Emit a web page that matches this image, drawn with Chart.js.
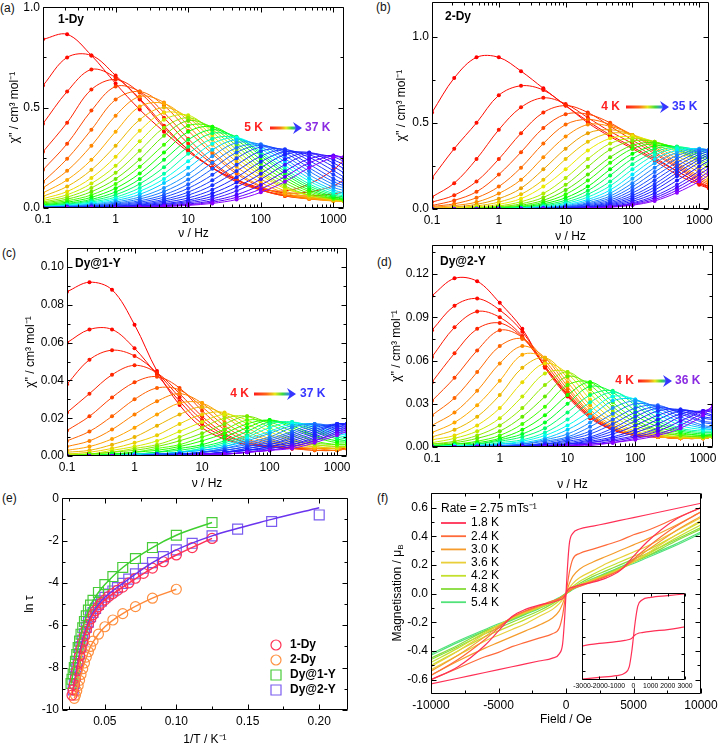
<!DOCTYPE html>
<html><head><meta charset="utf-8">
<script src="https://cdn.jsdelivr.net/npm/chart.js@4.4.1/dist/chart.umd.min.js"></script>
<style>
html,body{margin:0;padding:0;background:#fff}
body{width:720px;height:748px;overflow:hidden;position:relative;font-family:"Liberation Sans",Arial,sans-serif}
.lbl{position:absolute;font-size:12px;line-height:14px;color:#111}
canvas{position:absolute}
</style></head><body>
<div class="lbl" style="left:0;top:1px">(a)</div>
<div class="lbl" style="left:376px;top:0">(b)</div>
<div class="lbl" style="left:2px;top:246px">(c)</div>
<div class="lbl" style="left:377px;top:255px">(d)</div>
<div class="lbl" style="left:2px;top:491px">(e)</div>
<div class="lbl" style="left:377px;top:491px">(f)</div>
<script>
// ---------- data: ac susceptibility (chi'' vs frequency) ----------
const FREQ = [0.1,0.215,0.464,1,2.15,4.64,10,21.5,46.4,100,215,464,1000,1400];

const A_TEMPS = [5,6,7,8,9,10,11,12,13,14,15,16,17,18,19,20,21,22,23,24,25,26,27,28,29,30,31,32,33,34,35,36,37];
const A_CHI = [
 [0.84,0.865,0.76,0.62,0.49,0.38,0.28,0.2,0.14,0.095,0.085,0.12,0.19,0.24],
 [0.61,0.75,0.76,0.66,0.54,0.40,0.29,0.2,0.14,0.10,0.075,0.08,0.11,0.14],
 [0.42,0.58,0.69,0.65,0.545,0.41,0.29,0.2,0.13,0.09,0.065,0.06,0.07,0.08],
 [0.28,0.425,0.59,0.64,0.575,0.45,0.32,0.22,0.14,0.09,0.06,0.05,0.05,0.06],
 [0.19,0.32,0.485,0.605,0.58,0.475,0.345,0.23,0.145,0.09,0.06,0.045,0.04,0.045],
 [0.13,0.245,0.39,0.54,0.58,0.51,0.385,0.27,0.17,0.105,0.067,0.048,0.04,0.04],
 [0.10,0.185,0.31,0.46,0.555,0.525,0.41,0.285,0.18,0.11,0.065,0.045,0.035,0.035],
 [0.075,0.14,0.24,0.38,0.505,0.52,0.435,0.315,0.205,0.127,0.075,0.05,0.035,0.032],
 [0.058,0.107,0.19,0.31,0.44,0.5,0.45,0.34,0.23,0.145,0.085,0.055,0.038,0.033],
 [0.046,0.082,0.15,0.255,0.385,0.475,0.455,0.36,0.25,0.163,0.097,0.062,0.042,0.036],
 [0.037,0.066,0.122,0.21,0.332,0.44,0.462,0.378,0.27,0.174,0.103,0.063,0.043,0.037],
 [0.03,0.054,0.1,0.175,0.285,0.4,0.45,0.39,0.29,0.185,0.11,0.065,0.045,0.038],
 [0.025,0.044,0.081,0.145,0.242,0.36,0.435,0.4,0.31,0.202,0.125,0.073,0.046,0.039],
 [0.02,0.036,0.065,0.12,0.205,0.315,0.41,0.405,0.325,0.22,0.14,0.082,0.048,0.04],
 [0.016,0.029,0.053,0.098,0.172,0.276,0.38,0.405,0.34,0.24,0.155,0.09,0.053,0.044],
 [0.013,0.023,0.043,0.08,0.144,0.24,0.34,0.39,0.35,0.26,0.17,0.10,0.058,0.048],
 [0.011,0.019,0.036,0.066,0.12,0.203,0.305,0.372,0.355,0.27,0.182,0.11,0.065,0.054],
 [0.009,0.016,0.03,0.054,0.10,0.17,0.27,0.345,0.35,0.28,0.195,0.12,0.072,0.06],
 [0.007,0.013,0.025,0.045,0.083,0.145,0.233,0.32,0.35,0.295,0.212,0.134,0.081,0.067],
 [0.006,0.011,0.02,0.037,0.068,0.124,0.2,0.29,0.34,0.305,0.23,0.148,0.09,0.075],
 [0.005,0.009,0.016,0.03,0.055,0.1,0.168,0.258,0.325,0.315,0.245,0.165,0.103,0.087],
 [0.004,0.007,0.013,0.024,0.045,0.082,0.142,0.225,0.3,0.317,0.26,0.183,0.117,0.1],
 [0.003,0.006,0.011,0.02,0.036,0.066,0.118,0.195,0.277,0.312,0.275,0.2,0.131,0.111],
 [0.003,0.005,0.009,0.016,0.029,0.054,0.098,0.165,0.248,0.303,0.285,0.218,0.146,0.122],
 [0.002,0.004,0.007,0.013,0.023,0.043,0.079,0.138,0.215,0.283,0.292,0.236,0.166,0.138],
 [0.002,0.004,0.006,0.01,0.018,0.035,0.064,0.113,0.184,0.258,0.29,0.252,0.186,0.154],
 [0.001,0.003,0.005,0.008,0.015,0.028,0.05,0.091,0.153,0.23,0.28,0.266,0.206,0.175],
 [0.001,0.002,0.004,0.007,0.012,0.022,0.039,0.073,0.127,0.2,0.266,0.276,0.224,0.196],
 [0.001,0.001,0.003,0.005,0.01,0.018,0.032,0.058,0.104,0.17,0.243,0.275,0.24,0.215],
 [0.001,0.001,0.003,0.004,0.008,0.014,0.026,0.046,0.085,0.143,0.216,0.267,0.254,0.232],
 [0.001,0.001,0.002,0.003,0.006,0.011,0.02,0.036,0.066,0.115,0.183,0.245,0.262,0.245],
 [0.001,0.001,0.002,0.003,0.005,0.009,0.016,0.029,0.053,0.095,0.156,0.225,0.26,0.252],
 [0.001,0.001,0.002,0.003,0.004,0.007,0.013,0.023,0.042,0.078,0.131,0.2,0.252,0.255]
];

const B_TEMPS = [4,5,6,7,8,9,10,11,12,13,14,15,16,17,18,19,20,21,22,23,24,25,26,27,28,29,30,31,32,33,34,35];
const B_CHI = [
 [0.56,0.76,0.88,0.88,0.80,0.70,0.60,0.51,0.43,0.36,0.29,0.22,0.15,0.13],
 [0.18,0.35,0.50,0.66,0.715,0.69,0.60,0.50,0.42,0.35,0.28,0.20,0.14,0.12],
 [0.07,0.15,0.29,0.46,0.59,0.645,0.61,0.53,0.45,0.38,0.30,0.22,0.15,0.12],
 [0.04,0.08,0.16,0.29,0.44,0.56,0.60,0.56,0.48,0.40,0.32,0.24,0.16,0.13],
 [0.02,0.05,0.10,0.20,0.33,0.47,0.55,0.55,0.50,0.42,0.33,0.25,0.17,0.14],
 [0.015,0.03,0.065,0.13,0.24,0.38,0.49,0.52,0.49,0.43,0.35,0.26,0.18,0.15],
 [0.01,0.02,0.04,0.09,0.17,0.30,0.42,0.49,0.48,0.43,0.36,0.27,0.19,0.16],
 [0.005,0.012,0.027,0.06,0.12,0.23,0.35,0.44,0.46,0.43,0.37,0.29,0.21,0.17],
 [0.003,0.008,0.018,0.04,0.085,0.17,0.29,0.39,0.44,0.43,0.38,0.31,0.23,0.19],
 [0.002,0.005,0.012,0.027,0.06,0.13,0.23,0.34,0.41,0.42,0.39,0.33,0.25,0.21],
 [0.001,0.003,0.008,0.018,0.042,0.09,0.18,0.29,0.38,0.41,0.39,0.34,0.27,0.23],
 [0.001,0.002,0.006,0.013,0.03,0.067,0.14,0.245,0.345,0.395,0.39,0.345,0.28,0.245],
 [0.001,0.002,0.004,0.01,0.022,0.05,0.11,0.20,0.30,0.37,0.385,0.35,0.29,0.26],
 [0,0.001,0.003,0.007,0.016,0.039,0.085,0.165,0.268,0.35,0.378,0.356,0.305,0.275],
 [0,0.001,0.002,0.005,0.012,0.03,0.065,0.13,0.23,0.32,0.365,0.36,0.32,0.29],
 [0,0.001,0.001,0.004,0.009,0.023,0.051,0.106,0.195,0.292,0.35,0.362,0.33,0.305],
 [0,0,0.001,0.003,0.007,0.018,0.04,0.085,0.16,0.26,0.33,0.36,0.34,0.32],
 [0,0,0.001,0.002,0.005,0.013,0.032,0.069,0.134,0.23,0.313,0.352,0.345,0.33],
 [0,0,0.001,0.002,0.004,0.01,0.025,0.055,0.11,0.20,0.29,0.34,0.35,0.34],
 [0,0,0,0.001,0.003,0.008,0.02,0.045,0.091,0.175,0.266,0.327,0.35,0.343],
 [0,0,0,0.001,0.003,0.007,0.016,0.036,0.075,0.15,0.24,0.31,0.345,0.345],
 [0,0,0,0.001,0.002,0.006,0.013,0.03,0.063,0.129,0.215,0.292,0.34,0.344],
 [0,0,0,0.001,0.002,0.005,0.011,0.025,0.052,0.11,0.19,0.27,0.33,0.34],
 [0,0,0,0,0.001,0.004,0.009,0.02,0.043,0.093,0.167,0.25,0.317,0.334],
 [0,0,0,0,0.001,0.003,0.007,0.016,0.036,0.078,0.145,0.23,0.30,0.325],
 [0,0,0,0,0.001,0.002,0.006,0.013,0.03,0.066,0.127,0.21,0.287,0.313],
 [0,0,0,0,0.001,0.002,0.005,0.011,0.025,0.055,0.11,0.19,0.27,0.30],
 [0,0,0,0,0,0.001,0.004,0.009,0.02,0.045,0.092,0.165,0.246,0.279],
 [0,0,0,0,0,0.001,0.003,0.007,0.016,0.036,0.076,0.14,0.22,0.255],
 [0,0,0,0,0,0.001,0.002,0.006,0.014,0.031,0.065,0.124,0.2,0.237],
 [0,0,0,0,0,0.001,0.002,0.005,0.012,0.026,0.055,0.109,0.18,0.218],
 [0,0,0,0,0,0.001,0.002,0.004,0.01,0.022,0.047,0.095,0.16,0.20]
];

const C_TEMPS = [4,5,6,7,8,9,10,11,12,13,14,15,16,17,18,19,20,21,22,23,24,25,26,27,28,29,30,31,32,33,34,35,36,37];
const C_CHI = [
 [0.087,0.092,0.088,0.0695,0.045,0.027,0.015,0.009,0.006,0.005,0.004,0.004,0.004,0.005],
 [0.06,0.067,0.067,0.057,0.043,0.029,0.017,0.01,0.006,0.005,0.004,0.004,0.004,0.004],
 [0.038,0.051,0.056,0.053,0.044,0.031,0.019,0.011,0.007,0.005,0.004,0.004,0.004,0.004],
 [0.023,0.033,0.043,0.048,0.044,0.033,0.021,0.012,0.007,0.005,0.004,0.004,0.004,0.004],
 [0.0135,0.021,0.031,0.039,0.042,0.036,0.024,0.014,0.008,0.005,0.004,0.003,0.003,0.004],
 [0.008,0.013,0.021,0.03,0.036,0.035,0.026,0.016,0.009,0.006,0.004,0.003,0.003,0.004],
 [0.005,0.008,0.014,0.022,0.029,0.033,0.028,0.018,0.011,0.007,0.005,0.004,0.003,0.004],
 [0.003,0.005,0.009,0.015,0.022,0.028,0.028,0.021,0.013,0.008,0.005,0.004,0.004,0.005],
 [0.002,0.003,0.006,0.01,0.016,0.022,0.026,0.022,0.015,0.009,0.006,0.005,0.004,0.005],
 [0.001,0.002,0.004,0.007,0.011,0.017,0.022,0.023,0.017,0.011,0.007,0.005,0.004,0.005],
 [0.001,0.001,0.003,0.005,0.008,0.013,0.018,0.022,0.019,0.013,0.008,0.006,0.005,0.005],
 [0.001,0.001,0.002,0.004,0.006,0.01,0.015,0.02,0.021,0.015,0.009,0.006,0.005,0.005],
 [0,0.001,0.002,0.003,0.005,0.008,0.012,0.017,0.021,0.017,0.011,0.007,0.006,0.006],
 [0,0.001,0.001,0.002,0.004,0.006,0.01,0.014,0.019,0.018,0.013,0.008,0.006,0.006],
 [0,0,0.001,0.002,0.003,0.005,0.008,0.012,0.017,0.019,0.015,0.01,0.007,0.007],
 [0,0,0.001,0.001,0.002,0.004,0.006,0.01,0.015,0.019,0.016,0.011,0.008,0.008],
 [0,0,0.001,0.001,0.002,0.003,0.005,0.008,0.013,0.018,0.017,0.013,0.009,0.008],
 [0,0,0,0.001,0.001,0.002,0.004,0.007,0.011,0.017,0.018,0.014,0.01,0.009],
 [0,0,0,0.001,0.001,0.002,0.004,0.006,0.01,0.015,0.018,0.015,0.011,0.01],
 [0,0,0,0.001,0.001,0.002,0.003,0.005,0.009,0.013,0.017,0.016,0.012,0.011],
 [0,0,0,0.001,0.001,0.002,0.003,0.005,0.008,0.012,0.016,0.017,0.013,0.012],
 [0,0,0,0,0.001,0.001,0.002,0.004,0.007,0.01,0.015,0.017,0.014,0.013],
 [0,0,0,0,0.001,0.001,0.002,0.004,0.006,0.009,0.013,0.017,0.015,0.014],
 [0,0,0,0,0.001,0.001,0.002,0.003,0.005,0.008,0.012,0.016,0.016,0.015],
 [0,0,0,0,0.001,0.001,0.002,0.003,0.005,0.007,0.011,0.015,0.017,0.016],
 [0,0,0,0,0,0.001,0.001,0.002,0.004,0.006,0.01,0.014,0.017,0.017],
 [0,0,0,0,0,0.001,0.001,0.002,0.004,0.006,0.009,0.013,0.017,0.017],
 [0,0,0,0,0,0.001,0.001,0.002,0.003,0.005,0.008,0.012,0.017,0.017],
 [0,0,0,0,0,0.001,0.001,0.002,0.003,0.005,0.007,0.011,0.016,0.017],
 [0,0,0,0,0,0,0.001,0.002,0.003,0.004,0.006,0.01,0.015,0.017],
 [0,0,0,0,0,0,0.001,0.001,0.002,0.004,0.006,0.009,0.014,0.016],
 [0,0,0,0,0,0,0.001,0.001,0.002,0.003,0.005,0.008,0.013,0.015],
 [0,0,0,0,0,0,0.001,0.001,0.002,0.003,0.005,0.008,0.012,0.014],
 [0,0,0,0,0,0,0.001,0.001,0.002,0.003,0.004,0.007,0.011,0.013]
];

const D_TEMPS = [4,5,6,7,8,9,10,11,12,13,14,15,16,17,18,19,20,21,22,23,24,25,26,27,28,29,30,31,32,33,34,35,36];
const D_CHI = [
 [0.105,0.117,0.115,0.1,0.082,0.055,0.035,0.02,0.012,0.008,0.007,0.006,0.006,0.007],
 [0.081,0.098,0.103,0.095,0.08,0.056,0.036,0.021,0.012,0.008,0.007,0.006,0.006,0.007],
 [0.0625,0.083,0.094,0.09,0.077,0.056,0.036,0.021,0.012,0.008,0.007,0.006,0.006,0.007],
 [0.045,0.065,0.082,0.086,0.076,0.056,0.037,0.022,0.013,0.008,0.007,0.006,0.006,0.007],
 [0.032,0.048,0.067,0.081,0.076,0.058,0.038,0.022,0.013,0.008,0.007,0.006,0.006,0.007],
 [0.022,0.034,0.052,0.07,0.075,0.06,0.04,0.023,0.013,0.008,0.007,0.006,0.006,0.007],
 [0.015,0.024,0.039,0.058,0.07,0.062,0.042,0.024,0.014,0.009,0.007,0.006,0.006,0.007],
 [0.01,0.017,0.029,0.046,0.064,0.062,0.045,0.026,0.015,0.009,0.007,0.006,0.006,0.007],
 [0.007,0.012,0.021,0.036,0.055,0.062,0.048,0.029,0.017,0.01,0.008,0.007,0.006,0.007],
 [0.005,0.008,0.015,0.027,0.045,0.058,0.051,0.033,0.019,0.011,0.008,0.007,0.006,0.007],
 [0.003,0.006,0.011,0.02,0.035,0.051,0.052,0.037,0.022,0.013,0.009,0.007,0.007,0.007],
 [0.002,0.004,0.008,0.015,0.027,0.043,0.052,0.04,0.025,0.015,0.01,0.008,0.007,0.007],
 [0.002,0.003,0.006,0.011,0.021,0.035,0.049,0.043,0.028,0.017,0.011,0.008,0.007,0.008],
 [0.001,0.002,0.004,0.008,0.016,0.028,0.043,0.045,0.031,0.019,0.012,0.009,0.008,0.008],
 [0.001,0.002,0.003,0.006,0.012,0.022,0.036,0.045,0.035,0.022,0.014,0.01,0.008,0.009],
 [0.001,0.001,0.002,0.005,0.009,0.017,0.03,0.042,0.038,0.025,0.016,0.011,0.009,0.009],
 [0,0.001,0.002,0.004,0.007,0.013,0.024,0.036,0.039,0.029,0.018,0.012,0.01,0.01],
 [0,0.001,0.001,0.003,0.005,0.01,0.019,0.031,0.038,0.031,0.02,0.013,0.011,0.011],
 [0,0.001,0.001,0.002,0.004,0.008,0.015,0.025,0.035,0.033,0.023,0.015,0.012,0.012],
 [0,0,0.001,0.002,0.003,0.006,0.012,0.021,0.032,0.033,0.025,0.017,0.013,0.012],
 [0,0,0.001,0.001,0.002,0.005,0.009,0.017,0.027,0.032,0.027,0.019,0.014,0.013],
 [0,0,0,0.001,0.002,0.004,0.007,0.014,0.023,0.03,0.028,0.021,0.015,0.014],
 [0,0,0,0.001,0.001,0.003,0.006,0.011,0.019,0.027,0.029,0.023,0.017,0.016],
 [0,0,0,0,0.001,0.002,0.005,0.009,0.016,0.024,0.028,0.024,0.018,0.017],
 [0,0,0,0,0.001,0.002,0.004,0.007,0.013,0.021,0.027,0.025,0.02,0.019],
 [0,0,0,0,0.001,0.002,0.003,0.006,0.011,0.018,0.025,0.026,0.021,0.02],
 [0,0,0,0,0.001,0.001,0.002,0.005,0.009,0.015,0.022,0.026,0.023,0.021],
 [0,0,0,0,0,0.001,0.002,0.004,0.007,0.012,0.019,0.025,0.024,0.022],
 [0,0,0,0,0,0.001,0.002,0.003,0.006,0.01,0.016,0.023,0.025,0.024],
 [0,0,0,0,0,0.001,0.001,0.003,0.005,0.008,0.013,0.021,0.025,0.025],
 [0,0,0,0,0,0.001,0.001,0.002,0.004,0.007,0.011,0.018,0.025,0.026],
 [0,0,0,0,0,0,0.001,0.002,0.003,0.006,0.009,0.015,0.024,0.028],
 [0,0,0,0,0,0,0.001,0.001,0.003,0.005,0.008,0.013,0.022,0.029]
];

// ---------- data: ln(tau) vs 1/T ----------
const E_1DY_X = [0.125,0.1111,0.1,0.0909,0.0833,0.0769,0.0714,0.0667,0.0625,0.0588,0.0556,0.0526,0.05,0.0476,0.0455,0.0435,0.0417,0.04,0.0385,0.037,0.0357,0.0345,0.0333,0.0323,0.0313,0.0303,0.0294,0.0286,0.0278,0.027];
const E_1DY_Y = [-1.9,-2.33,-2.68,-3.0,-3.3,-3.55,-3.78,-4.0,-4.2,-4.35,-4.5,-4.64,-4.8,-4.95,-5.12,-5.3,-5.5,-5.7,-5.95,-6.2,-6.5,-6.8,-7.1,-7.45,-7.8,-8.15,-8.5,-8.8,-9.05,-9.3];
const E_2DY_X = [0.1,0.0833,0.0714,0.0625,0.0556,0.05,0.0455,0.0417,0.04,0.0385,0.037,0.0357,0.0345,0.0333,0.0323,0.0313,0.0303,0.0294,0.0286];
const E_2DY_Y = [-4.3,-4.72,-5.12,-5.45,-5.75,-6.07,-6.42,-6.75,-7.0,-7.25,-7.5,-7.78,-8.05,-8.32,-8.6,-8.85,-9.1,-9.3,-9.45];
const E_D1Y_X = [0.125,0.1,0.0833,0.0714,0.0625,0.0556,0.05,0.0455,0.0417,0.04,0.0385,0.037,0.0357,0.0345,0.0333,0.0323,0.0313,0.0303,0.0294,0.0286,0.0278,0.027,0.0263];
const E_D1Y_Y = [-1.15,-1.75,-2.33,-2.85,-3.27,-3.7,-4.08,-4.45,-4.82,-5.05,-5.28,-5.55,-5.82,-6.12,-6.42,-6.75,-7.05,-7.38,-7.7,-8.0,-8.3,-8.55,-8.75];
const E_D2Y_X = [0.2,0.1667,0.1429,0.125,0.1111,0.1,0.0909,0.0833,0.0769,0.0714,0.0667,0.0625,0.0588,0.0556,0.0526,0.05,0.0476,0.0455,0.0435,0.0417,0.04,0.0385,0.037,0.0357,0.0345,0.0333,0.0323,0.0313,0.0303,0.0294,0.0286,0.0278];
const E_D2Y_Y = [-0.79,-1.1,-1.46,-1.78,-2.13,-2.44,-2.76,-3.04,-3.31,-3.57,-3.82,-4.02,-4.22,-4.38,-4.52,-4.68,-4.85,-5.02,-5.2,-5.4,-5.6,-5.85,-6.1,-6.4,-6.7,-7.0,-7.35,-7.7,-8.05,-8.4,-8.75,-9.05];
const FIT_1DY_X = [0.027,0.0294,0.0323,0.0357,0.04,0.0455,0.05,0.0625,0.0833,0.1,0.125];
const FIT_1DY_Y = [-9.3,-8.5,-7.45,-6.5,-5.7,-5.12,-4.8,-4.2,-3.3,-2.68,-1.9];
const FIT_2DY_X = [0.0286,0.0303,0.0333,0.0357,0.04,0.0455,0.05,0.0625,0.0833,0.1];
const FIT_2DY_Y = [-9.45,-9.1,-8.32,-7.78,-7.0,-6.42,-6.07,-5.45,-4.72,-4.3];
const FIT_D1Y_X = [0.0263,0.0286,0.0313,0.0345,0.04,0.0455,0.05,0.0625,0.0833,0.1,0.125];
const FIT_D1Y_Y = [-8.75,-8.0,-7.05,-6.12,-5.05,-4.45,-4.08,-3.27,-2.33,-1.75,-1.15];
const FIT_D2Y_X = [0.0278,0.0303,0.0333,0.0357,0.04,0.0455,0.05,0.0625,0.0833,0.1,0.125,0.1667,0.2];
const FIT_D2Y_Y = [-9.05,-8.05,-7.0,-6.4,-5.6,-5.02,-4.68,-4.02,-3.04,-2.44,-1.78,-1.0,-0.45];

// ---------- data: hysteresis ----------
const FIELD = [-10000,-8000,-6000,-5000,-4000,-3000,-2000,-1000,-500,-250,-100,0,100,250,500,1000,2000,3000,4000,5000,6000,8000,10000];
const HYST_LABELS = ['1.8 K','2.4 K','3.0 K','3.6 K','4.2 K','4.8 K','5.4 K'];
const M_STEEP = [
 [-0.63,-0.59,-0.55,-0.53,-0.51,-0.49,-0.47,-0.45,-0.42,-0.35,-0.17,0,0.17,0.35,0.42,0.45,0.47,0.49,0.51,0.53,0.55,0.59,0.63],
 [-0.60,-0.52,-0.44,-0.41,-0.37,-0.34,-0.31,-0.28,-0.24,-0.15,-0.06,0,0.06,0.15,0.24,0.28,0.31,0.34,0.37,0.41,0.44,0.52,0.60],
 [-0.57,-0.47,-0.38,-0.34,-0.30,-0.26,-0.22,-0.17,-0.12,-0.07,-0.03,0,0.03,0.07,0.12,0.17,0.22,0.26,0.30,0.34,0.38,0.47,0.57],
 [-0.53,-0.43,-0.33,-0.29,-0.25,-0.21,-0.16,-0.11,-0.07,-0.04,-0.015,0,0.015,0.04,0.07,0.11,0.16,0.21,0.25,0.29,0.33,0.43,0.53],
 [-0.50,-0.40,-0.30,-0.26,-0.22,-0.18,-0.135,-0.085,-0.05,-0.03,-0.01,0,0.01,0.03,0.05,0.085,0.135,0.18,0.22,0.26,0.30,0.40,0.50],
 [-0.46,-0.37,-0.28,-0.24,-0.20,-0.16,-0.12,-0.07,-0.04,-0.02,-0.008,0,0.008,0.02,0.04,0.07,0.12,0.16,0.20,0.24,0.28,0.37,0.46],
 [-0.43,-0.34,-0.26,-0.225,-0.185,-0.145,-0.105,-0.06,-0.032,-0.016,-0.006,0,0.006,0.016,0.032,0.06,0.105,0.145,0.185,0.225,0.26,0.34,0.43]
];
const M_WAIST = [
 [-0.60,-0.51,-0.36,-0.26,-0.16,-0.11,-0.08,-0.06,-0.045,-0.035,-0.02,0,0.02,0.035,0.045,0.06,0.08,0.11,0.16,0.26,0.36,0.51,0.60],
 [-0.57,-0.46,-0.32,-0.24,-0.165,-0.12,-0.085,-0.05,-0.035,-0.02,-0.01,0,0.01,0.02,0.035,0.05,0.085,0.12,0.165,0.24,0.32,0.46,0.57],
 [-0.54,-0.43,-0.30,-0.23,-0.165,-0.125,-0.09,-0.055,-0.035,-0.02,-0.01,0,0.01,0.02,0.035,0.055,0.09,0.125,0.165,0.23,0.30,0.43,0.54],
 [-0.51,-0.40,-0.28,-0.22,-0.17,-0.13,-0.095,-0.06,-0.035,-0.02,-0.01,0,0.01,0.02,0.035,0.06,0.095,0.13,0.17,0.22,0.28,0.40,0.51],
 [-0.48,-0.38,-0.27,-0.22,-0.175,-0.135,-0.10,-0.06,-0.035,-0.02,-0.008,0,0.008,0.02,0.035,0.06,0.10,0.135,0.175,0.22,0.27,0.38,0.48],
 [-0.45,-0.36,-0.26,-0.22,-0.18,-0.14,-0.10,-0.058,-0.032,-0.016,-0.006,0,0.006,0.016,0.032,0.058,0.10,0.14,0.18,0.22,0.26,0.36,0.45],
 [-0.42,-0.33,-0.25,-0.21,-0.175,-0.135,-0.095,-0.052,-0.028,-0.013,-0.005,0,0.005,0.013,0.028,0.052,0.095,0.135,0.175,0.21,0.25,0.33,0.42]
];
const HYST_COLORS = ['#ff2f55','#ff6a3a','#f59c2c','#e9cf3a','#c4e02e','#86dc3a','#52e27a'];

// ---------- drawing helpers ----------
const FONT = '"Liberation Sans", Arial, sans-serif';
const DECO = new Map();
const decoPlugin = {
  id: 'decoPlugin',
  afterDatasetsDraw(chart) {
    const d = DECO.get(chart.canvas); if (!d) return;
    const ctx = chart.ctx, a = chart.chartArea;
    const L = Math.round(a.left) + 0.5, R = Math.round(a.right) - 0.5, T = Math.round(a.top) + 0.5, B = Math.round(a.bottom) - 0.5;
    const big = d.tick || 5, small = d.minor || 3;
    ctx.save(); ctx.strokeStyle = '#000'; ctx.lineWidth = 1; ctx.beginPath();
    const xs = chart.scales.x, ys = chart.scales.y;
    xs.ticks.forEach(t => { const p = Math.round(xs.getPixelForValue(t.value)) + 0.5; if (p < L - 1 || p > R + 1) return; const n = t.major ? big : small; ctx.moveTo(p, B); ctx.lineTo(p, B - n); ctx.moveTo(p, T); ctx.lineTo(p, T + n); });
    ys.ticks.forEach(t => { const p = Math.round(ys.getPixelForValue(t.value)) + 0.5; if (p < T - 1 || p > B + 1) return; const n = t.major ? big : small; ctx.moveTo(L, p); ctx.lineTo(L + n, p); ctx.moveTo(R, p); ctx.lineTo(R - n, p); });
    ctx.rect(L, T, R - L, B - T);
    ctx.stroke(); ctx.restore();
  },
  afterDraw(chart) {
    const d = DECO.get(chart.canvas); if (!d) return;
    const ctx = chart.ctx, ox = d.ox, oy = d.oy;
    (d.arrows || []).forEach(ar => {
      ctx.save();
      const x1 = ar.x1 - ox, x2 = ar.x2 - ox, y = ar.y - oy;
      const g = ctx.createLinearGradient(x1, 0, x2, 0);
      g.addColorStop(0, '#ff1a1a'); g.addColorStop(0.3, '#ff6a1a'); g.addColorStop(0.5, '#e8e81a'); g.addColorStop(0.68, '#3ddc3d'); g.addColorStop(0.85, '#2f7cff'); g.addColorStop(1, '#3535ff');
      ctx.strokeStyle = g; ctx.lineWidth = 3;
      ctx.beginPath(); ctx.moveTo(x1, y); ctx.lineTo(x2 - 6, y); ctx.stroke();
      ctx.fillStyle = '#3535ff'; ctx.beginPath(); ctx.moveTo(x2, y); ctx.lineTo(x2 - 9, y - 6); ctx.lineTo(x2 - 6, y); ctx.lineTo(x2 - 9, y + 6); ctx.closePath(); ctx.fill();
      ctx.restore();
    });
    (d.marks || []).forEach(m => {
      ctx.save(); ctx.strokeStyle = m.c; ctx.lineWidth = m.w || 1.2;
      const x = m.x - ox, y = m.y - oy;
      ctx.beginPath();
      if (m.k === 'circle') ctx.arc(x, y, 5, 0, Math.PI * 2);
      else if (m.k === 'rect') ctx.rect(x - 5, y - 5, 10, 10);
      else { ctx.moveTo(x, y); ctx.lineTo(x + m.len, y); }
      ctx.stroke(); ctx.restore();
    });
    (d.texts || []).forEach(t => {
      ctx.save(); ctx.fillStyle = t.c || '#000'; ctx.textBaseline = 'middle';
      ctx.translate(t.x - ox, t.y - oy);
      if (t.rot) ctx.rotate(t.rot * Math.PI / 180);
      if (t.parts) {
        let w = 0;
        t.parts.forEach(p => { ctx.font = p.f; w += ctx.measureText(p.t).width; });
        let x = -w / 2; ctx.textAlign = 'left';
        t.parts.forEach(p => { ctx.font = p.f; ctx.fillText(p.t, x, p.dy || 0); x += ctx.measureText(p.t).width; });
      } else {
        ctx.font = t.f || ('12px ' + FONT); ctx.textAlign = t.a || 'left';
        ctx.fillText(t.t, 0, 0);
      }
      ctx.restore();
    });
  }
};

function logTicks(lo, hi) {
  const maj = [], min = [];
  for (let e = Math.floor(Math.log10(lo)); e <= Math.ceil(Math.log10(hi)); e++) {
    for (let m = 1; m <= 9; m++) {
      const v = +(m * Math.pow(10, e)).toPrecision(6);
      if (v < lo - 1e-12 || v > hi + 1e-9) continue;
      (m === 1 ? maj : min).push(v);
    }
  }
  return [maj, min];
}

function panel(cfg) {
  const [L, T, W, H] = cfg.box;
  const [pl, pt, pr, pb] = cfg.plot;
  const cv = document.createElement('canvas');
  cv.width = W; cv.height = H;
  cv.style.left = L + 'px'; cv.style.top = T + 'px'; cv.style.width = W + 'px'; cv.style.height = H + 'px';
  document.body.appendChild(cv);
  DECO.set(cv, Object.assign({ ox: L, oy: T }, cfg.deco || {}));
  const isIn = (arr, v) => arr.some(m => Math.abs(m - v) <= Math.abs(m) * 1e-6 + 1e-12);
  const setTicks = (maj, min) => s => {
    s.ticks = maj.map(v => ({ value: v, major: true })).concat(min.map(v => ({ value: v, major: false }))).sort((a, b) => a.value - b.value);
  };
  const tickFont = { family: FONT, size: cfg.tickSize || 12 };
  const titleFont = { family: FONT, size: 12 };
  return new Chart(cv, {
    type: 'scatter',
    data: { datasets: cfg.datasets },
    options: {
      responsive: false, animation: false, devicePixelRatio: 1, events: [],
      layout: { padding: { left: 0, top: pt - T, right: L + W - pr, bottom: 0 } },
      plugins: { legend: { display: false }, tooltip: { enabled: false } },
      scales: {
        x: {
          type: cfg.xType || 'linear', min: cfg.xMin, max: cfg.xMax,
          afterBuildTicks: setTicks(cfg.xMaj, cfg.xMinr),
          afterFit: s => { s.height = T + H - pb; },
          grid: { display: false, drawTicks: false }, border: { display: false },
          ticks: { autoSkip: false, maxRotation: 0, minRotation: 0, padding: cfg.xPad == null ? 4 : cfg.xPad, color: '#000', font: tickFont,
                   callback: v => isIn(cfg.xMaj, v) ? cfg.xFmt(v) : '' },
          title: { display: !!cfg.xTitle, text: cfg.xTitle || '', padding: 0, color: '#000', font: titleFont }
        },
        y: {
          type: 'linear', min: cfg.yMin, max: cfg.yMax,
          afterBuildTicks: setTicks(cfg.yMaj, cfg.yMinr),
          afterFit: s => { s.width = pl - L; },
          grid: { display: false, drawTicks: false }, border: { display: false },
          ticks: { display: cfg.yLabels !== false, autoSkip: false, padding: 3, color: '#000', font: tickFont,
                   callback: v => isIn(cfg.yMaj, v) ? cfg.yFmt(v) : '' },
          title: { display: !!cfg.yTitle, text: cfg.yTitle || '', padding: 0, color: '#000', font: titleFont }
        }
      }
    },
    plugins: [decoPlugin]
  });
}

// rainbow colour scale red -> orange -> yellow -> green -> cyan -> blue -> violet
const HUE_STOPS = [[0, 0], [0.1, 10], [0.2, 35], [0.28, 55], [0.36, 90], [0.45, 120], [0.55, 170], [0.63, 210], [0.72, 228], [0.88, 242], [1, 272]];
function rainbow(t) {
  let h = HUE_STOPS[HUE_STOPS.length - 1][1];
  for (let i = 1; i < HUE_STOPS.length; i++) {
    const [t0, h0] = HUE_STOPS[i - 1], [t1, h1] = HUE_STOPS[i];
    if (t <= t1) { h = h0 + (h1 - h0) * (t - t0) / (t1 - t0); break; }
  }
  const l = (h > 40 && h < 100) ? 46 : (h > 200 && h < 250 ? 55 : 50);
  return 'hsl(' + h.toFixed(0) + ',100%,' + l + '%)';
}
function chiSets(temps, rows) {
  const t0 = temps[0], t1 = temps[temps.length - 1], n = temps.length;
  return rows.map((row, i) => {
    const col = rainbow((temps[i] - t0) / (t1 - t0));
    return {
      label: temps[i] + ' K',
      data: FREQ.map((f, k) => ({ x: f, y: row[k] })),
      showLine: true, tension: 0.35, borderWidth: 1, borderColor: col, backgroundColor: col,
      pointRadius: 2, pointBorderWidth: 0, pointBackgroundColor: col, order: n - i
    };
  });
}
const [LOG_MAJ, LOG_MIN] = logTicks(0.1, 1400);
const CHI_Y = "\u03c7'' / cm\u00b3 mol\u207b\u00b9";
const NU_X = '\u03bd / Hz';
const BOLD = 'bold 12px ' + FONT;

// (a)
panel({
  box: [7, -3, 347, 244], plot: [43, 7, 344, 208],
  xType: 'logarithmic', xMin: 0.1, xMax: 1400, xMaj: LOG_MAJ, xMinr: LOG_MIN, xFmt: v => String(v), xTitle: NU_X,
  yMin: 0, yMax: 1.0, yMaj: [0, 0.5, 1.0], yMinr: [0.25, 0.75], yFmt: v => v.toFixed(1), yTitle: CHI_Y,
  datasets: chiSets(A_TEMPS, A_CHI),
  deco: { texts: [{ t: '1-Dy', x: 58, y: 20, f: BOLD }, { t: '5 K', x: 263, y: 128, a: 'right', f: BOLD, c: '#ff2222' }, { t: '37 K', x: 305, y: 128, f: BOLD, c: '#8a2be2' }],
          arrows: [{ x1: 270, x2: 302, y: 128 }] }
});
// (b)
panel({
  box: [394, -8, 330, 252], plot: [432, 2, 709, 209],
  xType: 'logarithmic', xMin: 0.1, xMax: 1400, xMaj: LOG_MAJ, xMinr: LOG_MIN, xFmt: v => String(v), xTitle: NU_X,
  yMin: 0, yMax: 1.2, yMaj: [0, 0.5, 1.0], yMinr: [0.25, 0.75], yFmt: v => v.toFixed(1), yTitle: CHI_Y,
  datasets: chiSets(B_TEMPS, B_CHI),
  deco: { texts: [{ t: '2-Dy', x: 445, y: 17, f: BOLD }, { t: '4 K', x: 620, y: 107, a: 'right', f: BOLD, c: '#ff2222' }, { t: '35 K', x: 672, y: 107, f: BOLD, c: '#3535ff' }],
          arrows: [{ x1: 626, x2: 669, y: 107 }] }
});
// (c)
panel({
  box: [23, 238, 332, 253], plot: [67, 248, 347, 456],
  xType: 'logarithmic', xMin: 0.1, xMax: 1400, xMaj: LOG_MAJ, xMinr: LOG_MIN, xFmt: v => String(v), xTitle: NU_X,
  yMin: 0, yMax: 0.11, yMaj: [0, 0.02, 0.04, 0.06, 0.08, 0.10], yMinr: [0.01, 0.03, 0.05, 0.07, 0.09], yFmt: v => v.toFixed(2), yTitle: CHI_Y,
  datasets: chiSets(C_TEMPS, C_CHI),
  deco: { texts: [{ t: 'Dy@1-Y', x: 75, y: 264, f: BOLD }, { t: '4 K', x: 249, y: 394, a: 'right', f: BOLD, c: '#ff2222' }, { t: '37 K', x: 300, y: 394, f: BOLD, c: '#3535ff' }],
          arrows: [{ x1: 254, x2: 296, y: 394 }] }
});
// (d)
panel({
  box: [389, 235, 335, 257], plot: [432, 245, 713, 447],
  xType: 'logarithmic', xMin: 0.1, xMax: 1400, xMaj: LOG_MAJ, xMinr: LOG_MIN, xFmt: v => String(v), xTitle: NU_X,
  yMin: 0, yMax: 0.14, yMaj: [0, 0.03, 0.06, 0.09, 0.12], yMinr: [0.015, 0.045, 0.075, 0.105, 0.135], yFmt: v => v.toFixed(2), yTitle: CHI_Y,
  datasets: chiSets(D_TEMPS, D_CHI),
  deco: { texts: [{ t: 'Dy@2-Y', x: 440, y: 262, f: BOLD }, { t: '4 K', x: 634, y: 381, a: 'right', f: BOLD, c: '#ff2222' }, { t: '36 K', x: 675, y: 381, f: BOLD, c: '#8a2be2' }],
          arrows: [{ x1: 638, x2: 672, y: 381 }] }
});
// (e)
const xy = (xs, ys) => xs.map((x, i) => ({ x: x, y: ys[i] }));
const fitLine = (xs, ys, c) => ({ data: xy(xs, ys), showLine: true, cubicInterpolationMode: 'monotone', borderColor: c, borderWidth: 1.5, pointRadius: 0 });
const marks = (xs, ys, c, st, r) => ({ data: xy(xs, ys), showLine: false, pointStyle: st, pointRadius: r, pointBorderColor: c, pointBackgroundColor: 'rgba(0,0,0,0)', pointBorderWidth: 1.2 });
panel({
  box: [22, 488, 334, 259], plot: [62, 498, 350, 710],
  xMin: 0.02, xMax: 0.22, xMaj: [0.05, 0.10, 0.15, 0.20], xMinr: [0.025, 0.075, 0.125, 0.175], xFmt: v => v.toFixed(2), xTitle: '1/T / K\u207b\u00b9',
  yMin: -10, yMax: 0, yMaj: [-10, -8, -6, -4, -2, 0], yMinr: [-9, -7, -5, -3, -1], yFmt: v => String(v), yTitle: 'ln \u03c4',
  datasets: [
    fitLine(FIT_2DY_X, FIT_2DY_Y, '#ff8a3a'), fitLine(FIT_1DY_X, FIT_1DY_Y, '#ff2f55'),
    fitLine(FIT_D1Y_X, FIT_D1Y_Y, '#3fcf2f'), fitLine(FIT_D2Y_X, FIT_D2Y_Y, '#6a34ee'),
    marks(E_1DY_X, E_1DY_Y, '#ff3355', 'circle', 5), marks(E_2DY_X, E_2DY_Y, '#ff9040', 'circle', 5),
    marks(E_D1Y_X, E_D1Y_Y, '#49cc3a', 'rect', 7), marks(E_D2Y_X, E_D2Y_Y, '#7a5cf0', 'rect', 7)
  ],
  deco: { marks: [{ k: 'circle', x: 276, y: 645, c: '#ff3355' }, { k: 'circle', x: 276, y: 660, c: '#ff9040' }, { k: 'rect', x: 276, y: 675, c: '#49cc3a' }, { k: 'rect', x: 276, y: 690, c: '#7a5cf0' }],
          texts: [{ t: '1-Dy', x: 290, y: 645, f: BOLD }, { t: '2-Dy', x: 290, y: 660, f: BOLD }, { t: 'Dy@1-Y', x: 290, y: 675, f: BOLD }, { t: 'Dy@2-Y', x: 290, y: 690, f: BOLD }] }
});
// (f)
function hystSets(lw) {
  const out = [];
  HYST_LABELS.forEach((lab, i) => {
    [M_STEEP[i], M_WAIST[i]].forEach(arr => out.push({ label: lab, data: xy(FIELD, arr), showLine: true, cubicInterpolationMode: 'monotone', borderColor: HYST_COLORS[i], borderWidth: lw, pointRadius: 0 }));
  });
  return out;
}
const legMarks = [], legTexts = [{ t: 'Rate = 2.75 mTs\u207b\u00b9', x: 441, y: 509 }];
HYST_LABELS.forEach((lab, i) => {
  const y = 523 + i * 13.2;
  legMarks.push({ k: 'line', x: 441, y: y, len: 25, c: HYST_COLORS[i], w: 1.8 });
  legTexts.push({ t: lab, x: 471, y: y });
});
legTexts.push({ x: 398, y: 593, rot: -90, parts: [{ t: 'Magnetisation / \u03bc', f: '12px ' + FONT }, { t: 'B', f: '8px ' + FONT, dy: 3 }] });
panel({
  box: [391, 483, 333, 244], plot: [431, 493, 701, 694],
  xMin: -10000, xMax: 10000, xMaj: [-10000, -5000, 0, 5000, 10000], xMinr: [-7500, -2500, 2500, 7500], xFmt: v => String(v), xTitle: 'Field / Oe',
  yMin: -0.7, yMax: 0.7, yMaj: [-0.6, -0.4, -0.2, 0, 0.2, 0.4, 0.6], yMinr: [-0.5, -0.3, -0.1, 0.1, 0.3, 0.5], yFmt: v => v.toFixed(1),
  datasets: hystSets(1.2),
  deco: { marks: legMarks, texts: legTexts }
});
// inset of (f)
panel({
  box: [560, 588, 137, 109], plot: [582, 593, 685, 680], tickSize: 6.8, xPad: 2,
  xMin: -3000, xMax: 3000, xMaj: [-3000, -2000, -1000, 0, 1000, 2000, 3000], xMinr: [], xFmt: v => String(v),
  yMin: -0.5, yMax: 0.5, yMaj: [-0.4, -0.2, 0, 0.2, 0.4], yMinr: [], yFmt: v => '', yLabels: false,
  datasets: [
    { data: xy(FIELD, M_STEEP[0]), showLine: true, cubicInterpolationMode: 'monotone', borderColor: HYST_COLORS[0], borderWidth: 1.2, pointRadius: 0 },
    { data: xy(FIELD, M_WAIST[0]), showLine: true, cubicInterpolationMode: 'monotone', borderColor: HYST_COLORS[0], borderWidth: 1.2, pointRadius: 0 }
  ],
  deco: { tick: 3, minor: 2 }
});
</script>
</body></html>
